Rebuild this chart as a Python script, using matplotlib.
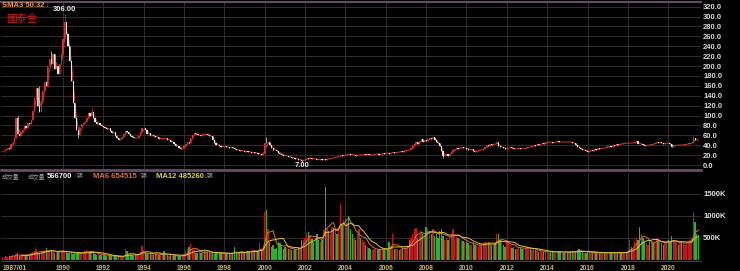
import numpy as np
import pandas as pd
import matplotlib
matplotlib.use("Agg")
import matplotlib.pyplot as plt

# ── 월봉 종가 (1987/01 ~ 2021/07) ─────────────────────────────
close_87_93 = [28, 30, 32, 35, 33, 42, 45, 55, 95, 62, 58, 66,
               70, 78, 74, 85, 82, 92, 110, 135, 155, 120, 108, 130,
               150, 168, 160, 200, 215, 205, 225, 195, 200, 185, 205, 225,
               255, 290, 265, 240, 210, 170, 125, 95, 70, 60, 76, 82,
               85, 88, 95, 105, 100, 108, 96, 88, 82, 85, 80, 78,
               76, 75, 73, 74, 68, 65, 66, 58, 54, 50, 52, 56,
               62, 68, 66, 62, 58, 57, 55, 54, 55, 58, 66, 74]
close_94_00 = [75, 70, 62, 64, 58, 60, 58, 56, 57, 52, 53, 55,
               54, 55, 50, 51, 46, 47, 42, 38, 39, 34, 33, 34,
               38, 42, 46, 44, 55, 60, 65, 62, 60, 61, 59, 63,
               62, 63, 60, 58, 59, 50, 45, 40, 41, 39, 36, 37,
               38, 36, 37, 35, 36, 34, 33, 30, 31, 29, 28, 29,
               27, 28, 27, 26, 25, 26, 24, 25, 22, 23, 21, 22,
               45, 44, 46, 40, 34, 31, 30, 28, 25, 23, 21, 19]
close_01_07 = [18, 19, 16, 17, 14, 15, 12, 13, 10, 11, 8, 10,
               12, 14, 13, 15, 13, 12, 13, 11, 10, 12, 11, 12,
               11, 13, 12, 14, 15, 14, 17, 16, 19, 20, 18, 20,
               21, 23, 22, 21, 20, 21, 19, 20, 21, 20, 21, 22,
               21, 22, 21, 20, 21, 22, 23, 22, 21, 23, 24, 23,
               25, 24, 23, 25, 26, 24, 26, 27, 26, 28, 27, 29,
               30, 31, 30, 34, 38, 42, 46, 43, 48, 52, 47, 50]
close_08_14 = [48, 52, 55, 53, 57, 50, 47, 45, 38, 28, 18, 20,
               22, 19, 23, 27, 30, 32, 34, 33, 35, 36, 34, 35,
               33, 30, 31, 32, 28, 27, 29, 30, 31, 30, 33, 36,
               40, 39, 42, 41, 43, 42, 46, 38, 36, 37, 34, 33,
               34, 35, 36, 34, 33, 32, 33, 34, 33, 32, 33, 35,
               36, 37, 36, 39, 40, 39, 42, 41, 43, 44, 43, 46,
               46, 47, 46, 45, 46, 47, 48, 47, 46, 47, 46, 47]
close_15_21 = [46, 47, 46, 44, 45, 40, 37, 34, 32, 30, 31, 28,
               27, 28, 30, 29, 32, 31, 34, 33, 34, 35, 34, 37,
               37, 38, 37, 40, 39, 42, 41, 43, 42, 44, 45, 44,
               44, 45, 44, 45, 47, 48, 43, 42, 43, 40, 39, 40,
               41, 40, 43, 42, 45, 46, 45, 46, 44, 43, 44, 45,
               44, 42, 37, 39, 40, 41, 40, 41, 40, 41, 42, 43,
               43, 44, 45, 55, 51, 50, 49.96]
first_open = 27
wick_high = {9: 100, 22: 160, 29: 230, 37: 306, 53: 118, 157: 57, 411: 58}
wick_low = {45: 55, 178: 7, 262: 15}

# ── 월 거래량 (천 단위) ──────────────────────────────────────
vol_87_93 = [60, 70, 80, 70, 90, 100, 110, 90, 130, 150, 100, 90,
             100, 110, 120, 130, 120, 150, 180, 200, 250, 150, 160, 190,
             200, 230, 280, 200, 190, 220, 180, 170, 160, 200, 190, 180,
             220, 200, 180, 170, 150, 160, 140, 150, 130, 150, 170, 160,
             180, 200, 230, 190, 170, 210, 150, 130, 120, 140, 120, 110,
             110, 120, 100, 90, 80, 90, 80, 90, 70, 60, 70, 80,
             90, 250, 200, 140, 130, 110, 100, 110, 120, 140, 180, 320]
vol_94_00 = [220, 150, 140, 130, 160, 140, 120, 130, 140, 120, 110, 130,
             210, 120, 110, 100, 110, 90, 80, 100, 90, 80, 100, 120,
             140, 200, 250, 300, 360, 280, 220, 150, 160, 180, 170, 190,
             200, 180, 190, 170, 160, 150, 140, 180, 150, 130, 160, 140,
             150, 160, 170, 140, 130, 150, 300, 170, 150, 160, 180, 170,
             180, 200, 210, 190, 200, 220, 230, 200, 190, 400, 220, 250,
             1090, 1130, 700, 420, 300, 350, 250, 280, 420, 380, 300, 260]
vol_01_07 = [300, 280, 260, 250, 230, 220, 240, 260, 300, 280, 450, 460,
             500, 620, 640, 560, 480, 420, 500, 600, 450, 400, 450, 680,
             1660, 700, 650, 600, 750, 720, 680, 600, 700, 1290, 800, 900,
             950, 850, 1000, 700, 600, 500, 450, 600, 700, 500, 450, 400,
             350, 300, 280, 250, 220, 260, 240, 230, 250, 220, 260, 280,
             250, 240, 420, 300, 600, 260, 240, 250, 230, 260, 280, 300,
             280, 300, 450, 500, 600, 700, 730, 500, 550, 650, 600, 550]
vol_08_14 = [750, 700, 650, 600, 700, 550, 600, 500, 650, 700, 550, 450,
             500, 450, 550, 600, 700, 550, 520, 500, 480, 450, 430, 420,
             400, 380, 350, 330, 400, 350, 320, 300, 330, 350, 380, 400,
             420, 400, 380, 350, 360, 380, 600, 580, 450, 400, 350, 300,
             450, 400, 350, 280, 300, 260, 250, 280, 300, 260, 250, 270,
             300, 280, 240, 220, 250, 230, 200, 180, 200, 190, 180, 200,
             180, 170, 190, 200, 180, 170, 190, 200, 180, 170, 160, 180]
vol_15_21 = [170, 190, 200, 210, 190, 180, 220, 250, 200, 180, 170, 160,
             180, 190, 170, 160, 150, 170, 160, 180, 170, 160, 150, 170,
             160, 170, 180, 170, 160, 180, 170, 160, 150, 160, 170, 180,
             200, 450, 300, 250, 400, 500, 450, 760, 600, 500, 400, 380,
             350, 400, 450, 380, 420, 500, 450, 400, 380, 350, 400, 420,
             450, 400, 550, 450, 400, 380, 350, 420, 400, 380, 350, 400,
             420, 450, 500, 1090, 860, 600, 566.7]

price_ticks = list(range(0, 321, 20))
vol_ticks = [500, 1000, 1500]
vol_tick_labels = ["500K", "1000K", "1500K"]
year_labels = list(range(1990, 2021, 2))

close = np.array(close_87_93 + close_94_00 + close_01_07 + close_08_14 + close_15_21, float)
vol = np.array(vol_87_93 + vol_94_00 + vol_01_07 + vol_08_14 + vol_15_21, float)
opens = np.r_[first_open, close[:-1]]
high = np.maximum(opens, close)
low = np.minimum(opens, close)
for k, v in wick_high.items():
    high[k] = v
for k, v in wick_low.items():
    low[k] = v
idx = np.arange(len(close))
up = close >= opens
sma3 = pd.Series(close).rolling(3).mean()
ma6 = pd.Series(vol).rolling(6).mean()
ma12 = pd.Series(vol).rolling(12).mean()

W, H = 740, 271
BG = "#000000"
GRID = "#353535"
PURPLE = "#6b4a68"
NUM = ["Liberation Sans", "DejaVu Sans"]
CJK = ["Noto Sans CJK TC", "DejaVu Sans"]

fig = plt.figure(figsize=(W / 100, H / 100), dpi=100, facecolor=BG)
ax1 = fig.add_axes([1 / W, 1 - 170 / H, 700 / W, 168 / H], facecolor=BG)
ax2 = fig.add_axes([1 / W, 1 - 261 / H, 700 / W, 88 / H], facecolor=BG)

xlim = (-0.9, 415.5)
year_pos = [(y - 1987) * 12 for y in year_labels]

# ── 가격 패널 ───────────────────────────────────────────────
ax1.set_xlim(*xlim)
ax1.set_ylim(-10, 329.5)
for y in price_ticks:
    ax1.axhline(y, color=GRID, lw=0.6, zorder=0)
for x in year_pos:
    ax1.axvline(x, color=GRID, lw=0.6, zorder=0)
cols = np.where(up, "#e02c26", "#e8e8e8")
ax1.plot(idx, sma3, color="#d03c1c", lw=0.7, zorder=2)
ax1.vlines(idx, low, high, colors=cols, lw=0.5, zorder=3)
ax1.bar(idx, np.maximum(np.abs(close - opens), 0.8), bottom=np.minimum(opens, close),
        width=0.7, color=cols, linewidth=0, zorder=4)
ax1.yaxis.tick_right()
ax1.set_yticks(price_ticks, [f"{v:.1f}" for v in price_ticks])
ax1.set_xticks([])
ax1.tick_params(axis="y", length=0, pad=1.5, labelsize=5.5, labelcolor="#d8d8d8")
for lab in ax1.get_yticklabels():
    lab.set_family(NUM)
    lab.set_fontweight("bold")
for s in ("left", "right"):
    ax1.spines[s].set_visible(False)
ax1.spines["top"].set_color(PURPLE)
ax1.spines["top"].set_linewidth(1.5)
ax1.spines["bottom"].set_color(PURPLE)
ax1.spines["bottom"].set_linewidth(2)

pk = int(np.argmax(high))
lo = int(np.argmin(low))
ax1.text(pk, high[pk] + 2, f"{high[pk]:.2f}", ha="center", va="bottom",
         fontsize=5.5, color="#e8e8e8", family=NUM, fontweight="bold")
ax1.text(lo, low[lo] - 1, f"{low[lo]:.2f}", ha="center", va="top",
         fontsize=5.5, color="#e8e8e8", family=NUM, fontweight="bold")

# 좌상단 라벨
fig.text(2 / W, 1 - 5.5 / H, f"SMA3 {sma3.iloc[-1]:.2f}", fontsize=5.5, color="#e0a050",
         family=NUM, fontweight="bold", va="center", ha="left")
fig.text(45 / W, 1 - 5.5 / H, "↓", fontsize=5, color="#30c030",
         family=NUM, fontweight="bold", va="center", ha="left")
fig.text(6 / W, 1 - 19 / H, "國泰金", fontsize=7.5, color="#d02020",
         family=CJK, va="center", ha="left")

# ── 거래량 패널 ─────────────────────────────────────────────
ax2.set_xlim(*xlim)
ax2.set_ylim(-23, 1977)
for y in vol_ticks:
    ax2.axhline(y, color=GRID, lw=0.6, zorder=0)
for x in year_pos:
    ax2.axvline(x, color=GRID, lw=0.6, zorder=0)
ax2.bar(idx, vol, width=0.8, color=np.where(up, "#c81414", "#28b428"),
        linewidth=0, zorder=2)
ax2.plot(idx, ma6, color="#e07030", lw=0.7, zorder=3)
ax2.plot(idx, ma12, color="#d8c830", lw=0.7, zorder=3)
ax2.yaxis.tick_right()
ax2.set_yticks(vol_ticks, vol_tick_labels)
ax2.tick_params(axis="y", length=0, pad=1.5, labelsize=5.5, labelcolor="#e0e0e0")
ax2.set_xticks(year_pos, [str(y) for y in year_labels])
ax2.tick_params(axis="x", length=0, pad=3, labelsize=4.8, labelcolor="#c9b85a")
for lab in ax2.get_yticklabels() + ax2.get_xticklabels():
    lab.set_family(NUM)
    lab.set_fontweight("bold")
ax2.text(0, -0.045, "1987/01", transform=ax2.get_xaxis_transform(), ha="left", va="top",
         fontsize=4.8, color="#c9b85a", family=NUM, fontweight="bold")
for s in ("left", "right", "top"):
    ax2.spines[s].set_visible(False)
ax2.spines["bottom"].set_color("#404040")
ax2.spines["bottom"].set_linewidth(0.8)

# 거래량 헤더
hy = 1 - 176.5 / H
hdr = [
    (2, "成交量", "#a0a0a0", CJK, 4.2),
    (28, "成交量", "#a0a0a0", CJK, 4.2),
    (47, f"{vol[-1] * 1000:.0f}", "#f0f0f0", NUM, 5.5),
    (73, "↑", "#e02020", NUM, 5.0),
    (77, "張", "#a0a0a0", CJK, 4.2),
    (93, f"MA6 {654515}", "#d87038", NUM, 5.5),
    (137, "↑", "#e02020", NUM, 5.0),
    (141, "張", "#a0a0a0", CJK, 4.2),
    (156, f"MA12 {485260}", "#d8d028", NUM, 5.5),
    (203, "↓", "#30c030", NUM, 5.0),
    (207, "張", "#a0a0a0", CJK, 4.2),
]
for x, s, c, fam, fs in hdr:
    fig.text(x / W, hy, s, fontsize=fs, color=c, family=fam,
             fontweight="bold" if fam is NUM else "normal", va="center", ha="left")

fig.savefig("out.png", dpi=100, facecolor=BG)
